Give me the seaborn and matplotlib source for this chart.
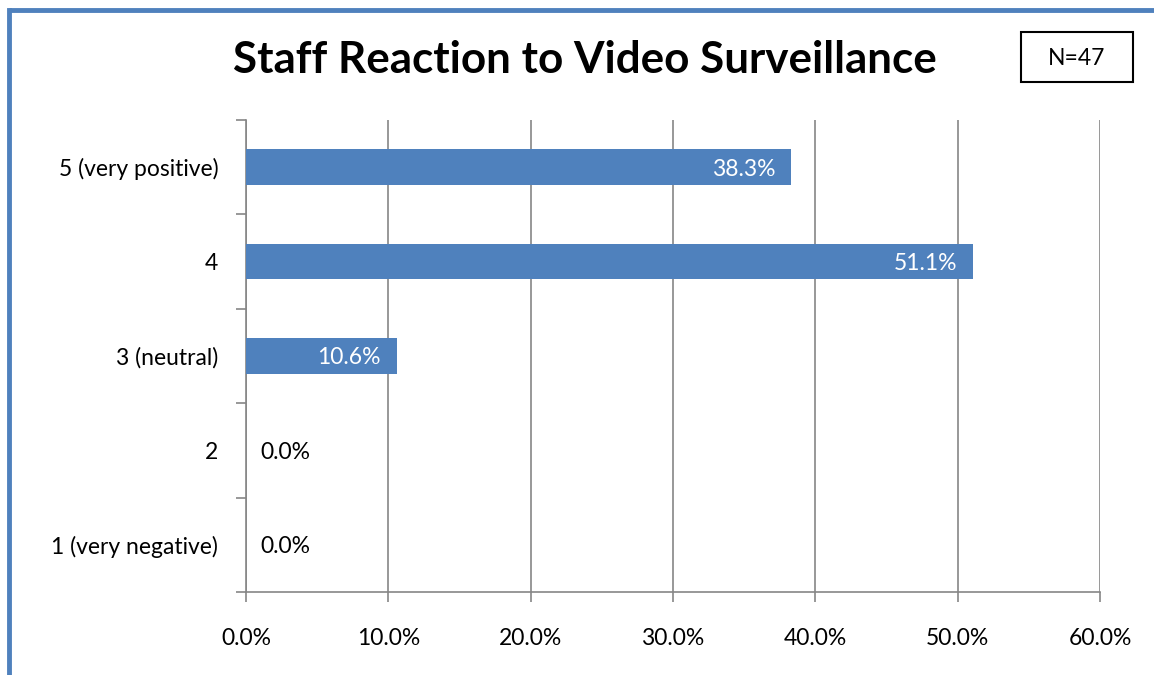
import matplotlib
matplotlib.use("Agg")
import matplotlib.pyplot as plt
from matplotlib.patches import Rectangle
from matplotlib.lines import Line2D
from matplotlib.ticker import FixedLocator, PercentFormatter
import seaborn as sns
import pandas as pd

# Survey responses (percent of staff)
categories = ["5 (very positive)", "4", "3 (neutral)", "2", "1 (very negative)"]
percentages = [38.3, 51.1, 10.6, 0.0, 0.0]
x_ticks = [0, 10, 20, 30, 40, 50, 60]
title = "Staff Reaction to Video Surveillance"
sample_note = "N=47"

BAR_BLUE = "#4F81BD"
GRID_GREY = "#868686"

sns.set_theme(style="white")
plt.rcParams["font.family"] = ["Lato", "DejaVu Sans"]

df = pd.DataFrame({"category": categories, "pct": percentages})

fig = plt.figure(figsize=(11.54, 6.75), dpi=100)
ax = fig.add_axes([0.2132, 0.1230, 0.7400, 0.6993])

sns.barplot(data=df, y="category", x="pct", orient="h", color=BAR_BLUE,
            saturation=1, width=0.38, linewidth=0, ax=ax, zorder=3)

ax.set_xlim(0, 60)
ax.set_ylim(len(categories) - 0.5, -0.5)
ax.set_xticks(x_ticks)
ax.xaxis.set_major_formatter(PercentFormatter(decimals=1))
ax.set_xlabel("")
ax.set_ylabel("")

# vertical gridlines
ax.grid(axis="x", color=GRID_GREY, linewidth=1.2, zorder=0)
ax.grid(axis="y", visible=False)

for side in ["top", "right"]:
    ax.spines[side].set_visible(False)
for side in ["left", "bottom"]:
    ax.spines[side].set_color(GRID_GREY)
    ax.spines[side].set_linewidth(1.2)

# category boundary tick marks on the y axis
ax.yaxis.set_minor_locator(FixedLocator([i - 0.5 for i in range(len(categories) + 1)]))
ax.tick_params(axis="y", which="major", length=0, pad=20, labelsize=16.5, labelcolor="black")
ax.tick_params(axis="y", which="minor", length=7, width=1.2, color=GRID_GREY, left=True)
ax.tick_params(axis="x", which="major", length=7, width=1.2, color=GRID_GREY,
               bottom=True, pad=19, labelsize=16.5, labelcolor="black")

# value labels
for i, v in enumerate(percentages):
    label = f"{v:.1f}%"
    if v > 5:
        ax.annotate(label, xy=(v, i), xytext=(-11.5, 0), textcoords="offset points",
                    ha="right", va="center_baseline", color="white", fontsize=16.5, zorder=4)
    else:
        ax.annotate(label, xy=(v, i), xytext=(10, 0), textcoords="offset points",
                    ha="left", va="center_baseline", color="black", fontsize=16.5, zorder=4)

fig.text(0.507, 0.911, title, ha="center", va="center", fontsize=31.7,
         fontweight="bold", color="black")

# sample size box
fig.add_artist(Rectangle((0.8847, 0.8785), 0.0971, 0.0741, transform=fig.transFigure,
                         facecolor="white", edgecolor="black", linewidth=1.5))
fig.text(0.9333, 0.9156, sample_note, ha="center", va="center_baseline",
         fontsize=16.5, color="black")

# chart frame: top and left edges
fig.add_artist(Line2D([0.0078, 1.0], [0.9859, 0.9859], transform=fig.transFigure,
                      color=BAR_BLUE, linewidth=3.5, solid_capstyle="butt"))
fig.add_artist(Line2D([0.0078, 0.0078], [0.0, 0.9859], transform=fig.transFigure,
                      color=BAR_BLUE, linewidth=3.5, solid_capstyle="projecting"))

fig.savefig("out.png", dpi=100, facecolor="white")
